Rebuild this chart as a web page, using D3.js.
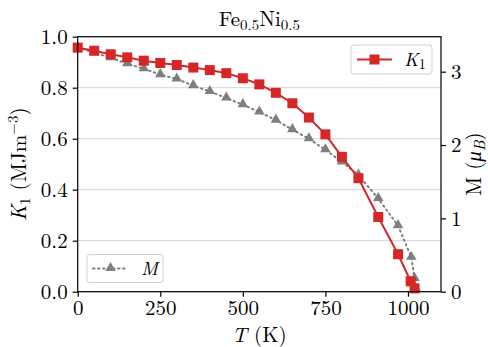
<!DOCTYPE html>
<html>
<head>
<meta charset="utf-8">
<script src="https://cdn.jsdelivr.net/npm/d3@7"></script>
<style>
  body { margin: 0; background: #fff; }
</style>
</head>
<body>
<svg id="chart" width="488" height="347"></svg>
<script>
// temperature (K) for each series
const tempK1 = [0, 50, 100, 150, 200, 250, 300, 350, 400, 450, 500, 550, 600, 650, 700, 750, 800, 850, 910, 970, 1008, 1020];
const k1Values = [0.957, 0.945, 0.931, 0.919, 0.906, 0.897, 0.889, 0.879, 0.869, 0.857, 0.837, 0.813, 0.780, 0.739, 0.683, 0.617, 0.529, 0.445, 0.293, 0.147, 0.041, 0.013];

const tempM = [0, 50, 100, 150, 200, 250, 300, 350, 400, 450, 500, 550, 600, 650, 700, 750, 800, 850, 910, 970, 1010, 1020, 1023];
const mValues = [3.33, 3.26, 3.19, 3.11, 3.04, 2.96, 2.90, 2.81, 2.73, 2.64, 2.55, 2.45, 2.34, 2.21, 2.085, 1.935, 1.77, 1.59, 1.27, 0.90, 0.47, 0.18, 0.045];

const xTicks = [0, 250, 500, 750, 1000];
const yLeftTicks = [0, 0.2, 0.4, 0.6, 0.8, 1.0];
const yRightTicks = [0, 1, 2, 3];

const FONT = '"Latin Modern Roman", "Liberation Serif", serif';
const svg = d3.select('#chart').style('font-family', FONT);
const area = {left: 77.7, right: 441, top: 36.7, bottom: 291.7};

const x = d3.scaleLinear().domain([0, 1100]).range([area.left, area.right]);
const yL = d3.scaleLinear().domain([0, 1]).range([area.bottom, area.top]);
const yR = d3.scaleLinear().domain([0, 3.477]).range([area.bottom, area.top]);

const red = '#d62728', grey = '#7f7f7f';

// horizontal grid from the left axis
svg.append('g').selectAll('line')
  .data(yLeftTicks)
  .enter().append('line')
  .attr('x1', area.left).attr('x2', area.right)
  .attr('y1', d => yL(d)).attr('y2', d => yL(d))
  .attr('stroke', '#d4d4d4').attr('stroke-width', 1);

// M series (dotted, triangles)
const mPts = tempM.map((t, i) => [t, mValues[i]]);
svg.append('path')
  .datum(mPts)
  .attr('fill', 'none').attr('stroke', grey).attr('stroke-width', 2)
  .attr('stroke-dasharray', '1.5,3.5').attr('stroke-linecap', 'round')
  .attr('d', d3.line().x(d => x(d[0])).y(d => yR(d[1])));

const tri = d3.symbol().type(d3.symbolTriangle).size(48);
svg.append('g').selectAll('path')
  .data(mPts)
  .enter().append('path')
  .attr('d', tri)
  .attr('transform', d => `translate(${x(d[0])},${yR(d[1]) - 0.5})`)
  .attr('fill', grey);

// K1 series (solid, squares)
const kPts = tempK1.map((t, i) => [t, k1Values[i]]);
svg.append('path')
  .datum(kPts)
  .attr('fill', 'none').attr('stroke', red).attr('stroke-width', 2)
  .attr('d', d3.line().x(d => x(d[0])).y(d => yL(d[1])));

svg.append('g').selectAll('rect')
  .data(kPts)
  .enter().append('rect')
  .attr('x', d => x(d[0]) - 5).attr('y', d => yL(d[1]) - 5)
  .attr('width', 10).attr('height', 10)
  .attr('fill', red);

// frame
svg.append('rect')
  .attr('x', area.left).attr('y', area.top)
  .attr('width', area.right - area.left).attr('height', area.bottom - area.top)
  .attr('fill', 'none').attr('stroke', '#000').attr('stroke-width', 1.2);

// axes
const fs = 21;
const bottomAxis = svg.append('g')
  .attr('transform', `translate(0,${area.bottom})`)
  .call(d3.axisBottom(x).tickValues(xTicks).tickSize(5).tickPadding(3).tickFormat(d3.format('d')));
const leftAxis = svg.append('g')
  .attr('transform', `translate(${area.left},0)`)
  .call(d3.axisLeft(yL).tickValues(yLeftTicks).tickSize(5).tickPadding(5).tickFormat(d3.format('.1f')));
const rightAxis = svg.append('g')
  .attr('transform', `translate(${area.right},0)`)
  .call(d3.axisRight(yR).tickValues(yRightTicks).tickSize(5).tickPadding(5).tickFormat(d3.format('d')));

[bottomAxis, leftAxis, rightAxis].forEach(a => {
  a.attr('font-family', null).attr('font-size', null);
  a.select('.domain').remove();
  a.selectAll('line').attr('stroke', '#000').attr('stroke-width', 1.2);
  a.selectAll('text').style('font-size', fs + 'px').style('font-family', FONT).attr('fill', '#000');
});

function label(xp, yp, rot) {
  return svg.append('text')
    .attr('transform', `translate(${xp},${yp})` + (rot ? ` rotate(${rot})` : ''))
    .attr('text-anchor', 'middle')
    .style('font-family', FONT).style('font-size', fs + 'px');
}

// title
const title = label((area.left + area.right) / 2, 26, 0);
title.append('tspan').text('Fe');
title.append('tspan').style('font-size', '15px').attr('dy', 4).text('0.5');
title.append('tspan').attr('dy', -4).text('Ni');
title.append('tspan').style('font-size', '15px').attr('dy', 4).text('0.5');

// x label
const xl = label((area.left + area.right) / 2, 342, 0);
xl.append('tspan').style('font-style', 'italic').text('T');
xl.append('tspan').text(' (K)');

// left label
const ylab = label(26, (area.top + area.bottom) / 2, -90);
ylab.append('tspan').style('font-style', 'italic').text('K');
ylab.append('tspan').style('font-size', '15px').attr('dy', 4).text('1');
ylab.append('tspan').attr('dy', -4).text(' (MJm');
ylab.append('tspan').style('font-size', '15px').attr('dy', -8).text('−3');
ylab.append('tspan').attr('dy', 8).text(')');

// right label
const rlab = label(481, (area.top + area.bottom) / 2, -90);
rlab.append('tspan').text('M (');
rlab.append('tspan').style('font-style', 'italic').text('μ');
rlab.append('tspan').style('font-style', 'italic').style('font-size', '15px').attr('dy', 4).text('B');
rlab.append('tspan').attr('dy', -4).text(')');

// legends
function legendBox(x0, y0, w, h) {
  svg.append('rect')
    .attr('x', x0).attr('y', y0).attr('width', w).attr('height', h)
    .attr('rx', 3).attr('fill', '#fff').attr('fill-opacity', 0.8)
    .attr('stroke', '#d0d0d0').attr('stroke-width', 1);
}

legendBox(351, 45, 81, 29);
svg.append('line').attr('x1', 357).attr('x2', 392).attr('y1', 59.5).attr('y2', 59.5)
  .attr('stroke', red).attr('stroke-width', 2);
svg.append('rect').attr('x', 369.5).attr('y', 54.5).attr('width', 10).attr('height', 10).attr('fill', red);
const lk = svg.append('text').attr('x', 404).attr('y', 66)
  .style('font-family', FONT).style('font-size', '19px');
lk.append('tspan').style('font-style', 'italic').text('K');
lk.append('tspan').style('font-size', '14px').attr('dy', 3).text('1');

legendBox(87, 254.5, 76, 28);
svg.append('line').attr('x1', 93).attr('x2', 128).attr('y1', 268.5).attr('y2', 268.5)
  .attr('stroke', grey).attr('stroke-width', 2)
  .attr('stroke-dasharray', '1.5,3.5').attr('stroke-linecap', 'round');
svg.append('path').attr('d', tri).attr('transform', 'translate(110.5,268)').attr('fill', grey);
svg.append('text').attr('x', 141).attr('y', 275)
  .style('font-family', FONT).style('font-size', '19px')
  .style('font-style', 'italic').text('M');
</script>
</body>
</html>
